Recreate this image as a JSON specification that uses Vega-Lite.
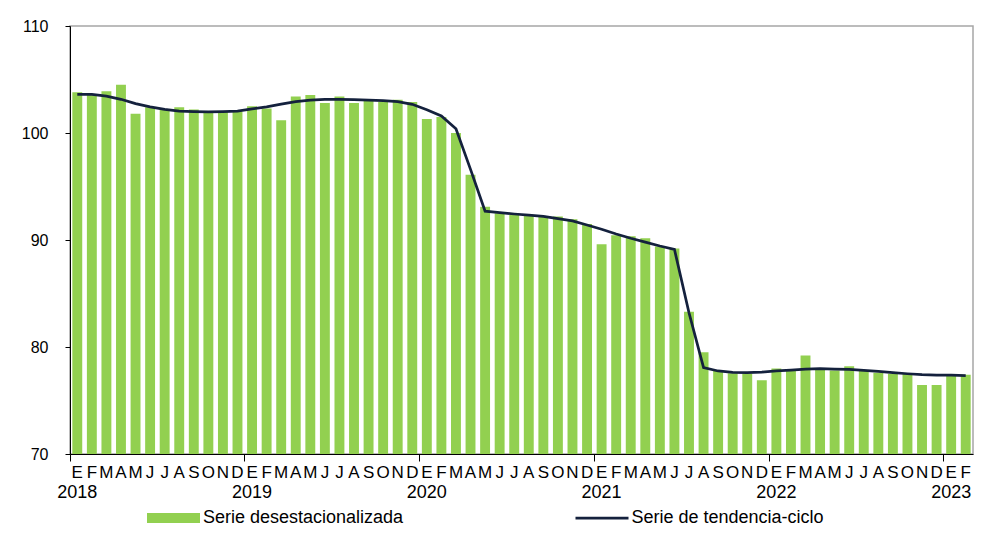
{
  "$schema": "https://vega.github.io/schema/vega-lite/v6.json",
  "width": 903,
  "height": 428,
  "autosize": {"type": "none"},
  "padding": {"left": 70, "top": 26, "right": 8, "bottom": 79},
  "background": "white",
  "config": {
    "font": "Liberation Sans",
    "view": {"stroke": "#a6a6a6", "strokeWidth": 1.5},
    "axis": {"labelColor": "black", "domainColor": "black", "tickColor": "black", "grid": false, "zindex": 1}
  },
  "data": {"values": [
    {"d": "2018-01", "v": 103.8, "t": 103.6},
    {"d": "2018-02", "v": 103.6, "t": 103.6},
    {"d": "2018-03", "v": 103.9, "t": 103.45},
    {"d": "2018-04", "v": 104.5, "t": 103.15},
    {"d": "2018-05", "v": 101.8, "t": 102.75},
    {"d": "2018-06", "v": 102.4, "t": 102.45},
    {"d": "2018-07", "v": 102.2, "t": 102.2},
    {"d": "2018-08", "v": 102.4, "t": 102.05},
    {"d": "2018-09", "v": 102.2, "t": 102.0},
    {"d": "2018-10", "v": 102.0, "t": 101.97},
    {"d": "2018-11", "v": 102.0, "t": 102.0},
    {"d": "2018-12", "v": 102.0, "t": 102.05},
    {"d": "2019-01", "v": 102.5, "t": 102.25},
    {"d": "2019-02", "v": 102.3, "t": 102.45},
    {"d": "2019-03", "v": 101.2, "t": 102.7},
    {"d": "2019-04", "v": 103.4, "t": 102.93},
    {"d": "2019-05", "v": 103.55, "t": 103.08},
    {"d": "2019-06", "v": 102.8, "t": 103.15},
    {"d": "2019-07", "v": 103.4, "t": 103.15},
    {"d": "2019-08", "v": 102.8, "t": 103.12},
    {"d": "2019-09", "v": 103.1, "t": 103.08},
    {"d": "2019-10", "v": 102.9, "t": 103.02},
    {"d": "2019-11", "v": 103.1, "t": 102.93},
    {"d": "2019-12", "v": 102.9, "t": 102.68},
    {"d": "2020-01", "v": 101.3, "t": 102.18},
    {"d": "2020-02", "v": 101.5, "t": 101.6},
    {"d": "2020-03", "v": 100.0, "t": 100.4},
    {"d": "2020-04", "v": 96.1, "t": 96.6},
    {"d": "2020-05", "v": 93.1, "t": 92.7},
    {"d": "2020-06", "v": 92.5, "t": 92.55},
    {"d": "2020-07", "v": 92.33, "t": 92.43},
    {"d": "2020-08", "v": 92.27, "t": 92.33},
    {"d": "2020-09", "v": 92.15, "t": 92.2},
    {"d": "2020-10", "v": 92.2, "t": 92.0},
    {"d": "2020-11", "v": 91.93, "t": 91.78},
    {"d": "2020-12", "v": 91.5, "t": 91.4},
    {"d": "2021-01", "v": 89.6, "t": 91.0},
    {"d": "2021-02", "v": 90.44, "t": 90.56},
    {"d": "2021-03", "v": 90.35, "t": 90.16},
    {"d": "2021-04", "v": 90.16, "t": 89.8},
    {"d": "2021-05", "v": 89.4, "t": 89.44},
    {"d": "2021-06", "v": 89.2, "t": 89.13},
    {"d": "2021-07", "v": 83.3, "t": 83.2},
    {"d": "2021-08", "v": 79.5, "t": 78.07},
    {"d": "2021-09", "v": 77.8, "t": 77.76},
    {"d": "2021-10", "v": 77.55, "t": 77.63},
    {"d": "2021-11", "v": 77.5, "t": 77.6},
    {"d": "2021-12", "v": 76.9, "t": 77.66},
    {"d": "2022-01", "v": 78.0, "t": 77.76},
    {"d": "2022-02", "v": 77.85, "t": 77.85},
    {"d": "2022-03", "v": 79.2, "t": 77.94},
    {"d": "2022-04", "v": 77.9, "t": 77.97},
    {"d": "2022-05", "v": 77.8, "t": 77.94},
    {"d": "2022-06", "v": 78.2, "t": 77.9},
    {"d": "2022-07", "v": 77.75, "t": 77.82},
    {"d": "2022-08", "v": 77.6, "t": 77.73},
    {"d": "2022-09", "v": 77.5, "t": 77.6},
    {"d": "2022-10", "v": 77.5, "t": 77.5},
    {"d": "2022-11", "v": 76.45, "t": 77.41},
    {"d": "2022-12", "v": 76.45, "t": 77.36},
    {"d": "2023-01", "v": 77.3, "t": 77.36},
    {"d": "2023-02", "v": 77.4, "t": 77.33}
  ]},
  "resolve": {"axis": {"x": "independent"}},
  "layer": [
    {
      "mark": {"type": "bar", "width": {"band": 0.68}, "clip": true},
      "encoding": {
        "x": {
          "field": "d", "type": "ordinal", "sort": null,
          "scale": {"paddingInner": 0, "paddingOuter": 0},
          "axis": {
            "orient": "bottom",
            "title": null, "bandPosition": 0, "labelAngle": 0,
            "labelFontSize": 17, "labelPadding": 3, "labelBaseline": "top",
            "tickSize": 7, "tickWidth": 1,
            "tickOpacity": {"condition": {"test": "slice(datum.value,5)=='01'", "value": 1}, "value": 0},
            "labelExpr": "['E','F','M','A','M','J','J','A','S','O','N','D'][toNumber(slice(datum.value,5))-1]",
            "domainWidth": 1
          }
        },
        "y": {
          "field": "v", "type": "quantitative",
          "scale": {"domain": [70, 110], "zero": false, "nice": false},
          "axis": {"title": null, "values": [70, 80, 90, 100, 110], "labelFontSize": 16, "tickSize": 5, "labelPadding": 17, "domainWidth": 1}
        },
        "color": {
          "datum": "Serie desestacionalizada",
          "scale": {"domain": ["Serie desestacionalizada", "Serie de tendencia-ciclo"], "range": ["#92D050", "#14213D"]},
          "legend": {
            "title": null, "orient": "none", "legendX": 94.5, "legendY": 483,
            "direction": "horizontal", "columns": 2, "columnPadding": 166.5,
            "labelFontSize": 18, "labelColor": "black", "labelLimit": 500, "labelOffset": 20.5,
            "encode": {"symbols": {"update": {
              "shape": {"signal": "datum.value == 'Serie desestacionalizada' ? 'M-1,-0.19H1V0.19H-1Z' : 'stroke'"},
              "size": {"value": 2809},
              "fill": {"signal": "datum.value == 'Serie desestacionalizada' ? '#92D050' : 'transparent'"},
              "stroke": {"signal": "datum.value == 'Serie desestacionalizada' ? 'transparent' : '#14213D'"},
              "strokeWidth": {"signal": "datum.value == 'Serie desestacionalizada' ? 0 : 2.75"},
              "opacity": {"value": 1}
            }}}
          }
        }
      }
    },
    {
      "mark": {"type": "line", "interpolate": "linear", "strokeWidth": 2.75},
      "encoding": {
        "x": {
          "field": "d", "type": "ordinal", "sort": null,
          "axis": {
            "orient": "bottom",
            "title": null, "labelAngle": 0, "labelFontSize": 18, "labelPadding": 29, "labelBaseline": "top",
            "ticks": false, "domain": false,
            "labelExpr": "slice(datum.value,5)=='01' ? slice(datum.value,0,4) : ''"
          }
        },
        "y": {"field": "t", "type": "quantitative"},
        "color": {"datum": "Serie de tendencia-ciclo"}
      }
    }
  ]
}
